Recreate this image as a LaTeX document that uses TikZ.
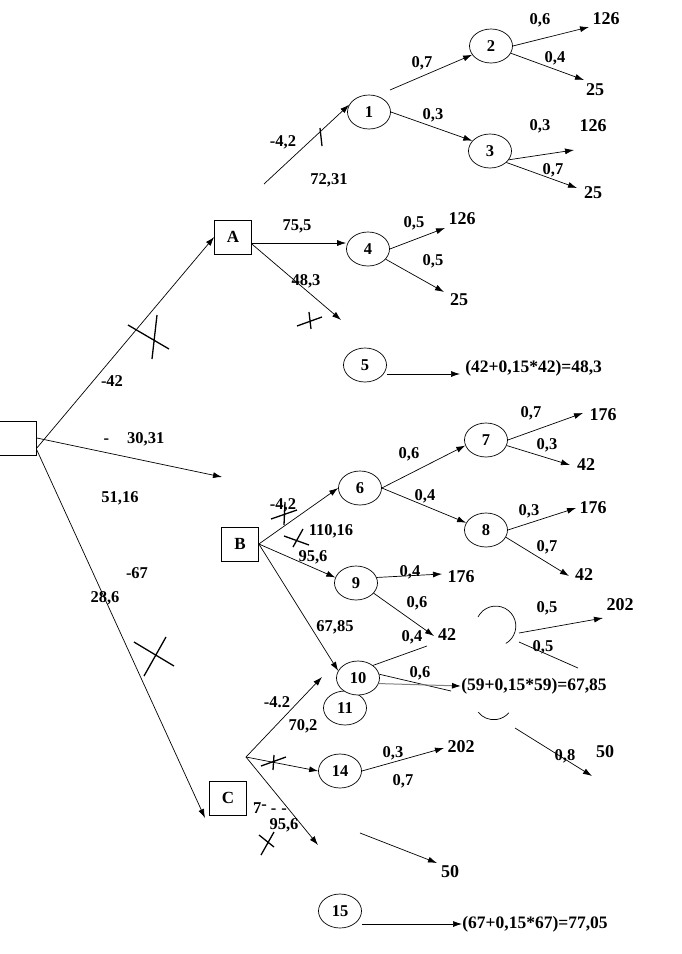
\documentclass[tikz,border=0pt]{standalone}
\usepackage{fontspec}
\setmainfont{Liberation Serif}
\usepackage{tikz}
\usetikzlibrary{arrows.meta,shapes.geometric,positioning}
\tikzset{>/.tip={Latex[length=9pt,width=6pt]}}
\tikzset{dec/.style={draw,minimum width=37pt,minimum height=34pt,inner sep=0pt,font=\bfseries\fontsize{17}{17}\selectfont}}
\tikzset{chn/.style={draw,fill=white,ellipse,minimum width=43pt,minimum height=34pt,inner sep=0pt,font=\bfseries\fontsize{16.5}{16.5}\selectfont}}
\tikzset{pr/.style={inner sep=0pt,font=\bfseries\fontsize{16.5}{16.5}\selectfont}}
\tikzset{val/.style={inner sep=0pt,font=\bfseries\fontsize{18}{18}\selectfont}}
\tikzset{fml/.style={inner sep=0pt,anchor=west,font=\bfseries\fontsize{17.5}{17.5}\selectfont}}
\tikzset{barred/.style={line width=1.3pt}}

\begin{document}
\begin{tikzpicture}[x=1pt,y=-1pt,line width=.7pt]
        \useasboundingbox (0,0) rectangle (681,954);
        % decisions
        \node[dec] (r) at (18,438) {};
        \node[dec] (A) at (233,237) {A};
        \node[dec] (B) at (240,544) {B};
        \node[dec] (C) at (228,798) {C};
        % chances
        \node[chn] (n1) at (369,112) {1};
        \node[chn] (n2) at (491,46) {2};
        \node[chn] (n3) at (490,151) {3};
        \node[chn] (n4) at (368,249) {4};
        \node[chn] (n5) at (365,365) {5};
        \node[chn] (n6) at (360,488) {6};
        \node[chn] (n7) at (486,440) {7};
        \node[chn] (n8) at (486,530) {8};
        \node[chn] (n9) at (356,583) {9};
        \node[chn] (n11) at (345,708) {11};
        \node[chn] (n10) at (358,678) {10};
        \node[chn] (n14) at (340,771) {14};
        \node[chn] (n15) at (340,911) {15};
        % results
        \node[fml] (f5) at (465,368) {(42+0,15*42)=48,3};
        \node[fml] (f10) at (461,686) {(59+0,15*59)=67,85};
        \node[fml] (f15) at (462,924) {(67+0,15*67)=77,05};
        % free ends
        \coordinate (m0) at (222,477);
        \coordinate (c9) at (205,818);
        \coordinate (a1) at (264,184);
        \coordinate (a5) at (341,320);
        \coordinate (o1) at (390,90);
        \coordinate (e2a) at (589,27);
        \coordinate (e2b) at (584,80);
        \coordinate (e3a) at (574,150);
        \coordinate (e3b) at (577,188);
        \coordinate (e4a) at (445,228);
        \coordinate (e4b) at (444,292);
        \coordinate (t5) at (460,374);
        \coordinate (e7a) at (583,413);
        \coordinate (e7b) at (570,465);
        \coordinate (e8a) at (576,508);
        \coordinate (e8b) at (569,576);
        \coordinate (e9a) at (442,574);
        \coordinate (e9b) at (434,636);
        \coordinate (e10a) at (427,646);
        \coordinate (e10b) at (451,691);
        \coordinate (g1) at (519,633);
        \coordinate (g2) at (603,618);
        \coordinate (g3) at (519,642);
        \coordinate (g4) at (578,668);
        \coordinate (g5) at (515,728);
        \coordinate (g6) at (592,776);
        \coordinate (c0) at (246,757);
        \coordinate (c1) at (322,677);
        \coordinate (c2) at (318,845);
        \coordinate (e14) at (444,748);
        \coordinate (c3) at (360,833);
        \coordinate (c4) at (437,863);
        % root
        \draw[->] ([yshift=-10pt]r.east) -- (A.west);
        \draw[->] (r.east) -- (m0);
        \draw[->] ([yshift=-12pt]r.east) -- (c9);
        \draw[barred] (128,325) -- (169,349) (157,315) -- (152,359);
        \draw[barred] (134,642) -- (174,666) (166,637) -- (144,676);
        % A
        \draw[->] ([yshift=-6pt]A.east) -- ([yshift=6pt]n4.west);
        \draw[->] ([yshift=-7pt]A.east) -- (a5);
        \draw[barred] (297,326) -- (322,317) (309,312) -- (311,329);
        \draw[->] (a1) -- (n1.160);
        \draw[barred] (320,128) -- (322,146);
        \draw[->] (o1) -- (n2.205);
        \draw[->] (n1.east) -- (n3.150);
        \draw[->] (n2.east) -- (e2a);
        \draw[->] (n2.-20) -- (e2b);
        \draw[->] (n3.-25) -- (e3a);
        \draw[->] (n3.-35) -- (e3b);
        \draw[->] (n4.east) -- (e4a);
        \draw[->] (n4.-30) -- (e4b);
        \draw[->] ([yshift=-9pt]n5.east) -- (t5);
        % B
        \draw[->] (B.east) -- (n6.west);
        \draw[->] (B.east) -- (n9.165);
        \draw[->] (B.east) -- (n10.160);
        \draw[barred] (271,519) -- (297,510) (285,502) -- (284,525);
        \draw[barred] (284,536) -- (309,545) (303,529) -- (293,547);
        \draw[->] (n6.east) -- (n7.195);
        \draw[->] (n6.east) -- (n8.160);
        \draw[->] (n7.east) -- (e7a);
        \draw[->] (n7.-15) -- (e7b);
        \draw[->] (n8.east) -- (e8a);
        \draw[->] (n8.-20) -- (e8b);
        \draw[->] (n9.15) -- (e9a);
        \draw[->] (n9.-30) -- (e9b);
        \draw (n10.40) -- (e10a);
        \draw (n10.10) -- (e10b);
        \draw[gray,line width=1pt,-{Latex[length=9pt,width=6pt,color=black]}] (n10.-15) -- (f10.west);
        \draw (478,617) arc[start angle=-153,end angle=60,radius=20];
        \draw (478,712) arc[start angle=142,end angle=41,radius=20];
        \draw[->] (g1) -- (g2);
        \draw (g3) -- (g4);
        \draw[->] (g5) -- (g6);
        % C
        \draw[->] (c0) -- (c1);
        \draw[->] (c0) -- (n14.west);
        \draw[->] (c0) -- (c2);
        \draw[barred] (261,766) -- (286,757) (274,755) -- (273,770);
        \draw[barred] (261,855) -- (274,832) (259,835) -- (274,847);
        \draw[->] (n14.east) -- (e14);
        \draw[->] (c3) -- (c4);
        \draw[->] ([yshift=-13pt]n15.east) -- (f15.west);
        % labels
        \node[pr] (pA) at (112,381) {-42};
        \node[pr] (pM) at (134,439) {-\hspace{18pt}30,31};
        \node[pr] (pM2) at (120,498) {51,16};
        \node[pr] (pC) at (137,573) {-67};
        \node[pr] (pC2) at (105,598) {28,6};
        \node[pr] (pA4) at (297,226) {75,5};
        \node[pr] (pA5) at (306,281) {48,3};
        \node[pr] (p1a) at (283,142) {-4,2};
        \node[pr] (p1b) at (329,180) {72,31};
        \node[pr] (p12) at (422,63) {0,7};
        \node[pr] (p13) at (433,115) {0,3};
        \node[pr] (p2a) at (540,20) {0,6};
        \node[pr] (p2b) at (555,58) {0,4};
        \node[pr] (p3a) at (540,126) {0,3};
        \node[pr] (p3b) at (553,170) {0,7};
        \node[pr] (p4a) at (414,223) {0,5};
        \node[pr] (p4b) at (433,261) {0,5};
        \node[val] (v2a) at (606,19) {126};
        \node[val] (v2b) at (595,90) {25};
        \node[val] (v3a) at (593,126) {126};
        \node[val] (v3b) at (593,193) {25};
        \node[val] (v4a) at (462,219) {126};
        \node[val] (v4b) at (459,300) {25};
        \node[pr] (pB6) at (283,505) {-4,2};
        \node[pr] (pB9a) at (331,531) {110,16};
        \node[pr] (pB9b) at (313,557) {95,6};
        \node[pr] (pB10) at (335,627) {67,85};
        \node[pr] (p67) at (409,454) {0,6};
        \node[pr] (p68) at (425,496) {0,4};
        \node[pr] (p7a) at (531,413) {0,7};
        \node[pr] (p7b) at (547,445) {0,3};
        \node[pr] (p8a) at (529,511) {0,3};
        \node[pr] (p8b) at (547,547) {0,7};
        \node[pr] (p9a) at (410,572) {0,4};
        \node[pr] (p9b) at (417,603) {0,6};
        \node[pr] (p10a) at (412,637) {0,4};
        \node[pr] (p10b) at (420,673) {0,6};
        \node[pr] (pg1) at (547,608) {0,5};
        \node[pr] (pg3) at (543,647) {0,5};
        \node[pr] (pg5) at (565,756) {0,8};
        \node[val] (v7a) at (603,415) {176};
        \node[val] (v7b) at (586,465) {42};
        \node[val] (v8a) at (593,508) {176};
        \node[val] (v8b) at (584,575) {42};
        \node[val] (v9a) at (461,577) {176};
        \node[val] (v9b) at (447,635) {42};
        \node[val] (vg2) at (620,605) {202};
        \node[val] (vg6) at (605,752) {50};
        \node[pr] (pc1a) at (277,702) {-4.2};
        \node[pr] (pc1b) at (303,726) {70,2};
        \node[pr] (pc2) at (284,825) {95,6};
        \node[pr] (q7) at (270,808) {7\raisebox{.5ex}{-}\hspace{4pt}-\hspace{5pt}-};
        \node[pr] (p14a) at (393,753) {0,3};
        \node[pr] (p14b) at (403,781) {0,7};
        \node[val] (v14) at (461,747) {202};
        \node[val] (vc4) at (450,872) {50};
\end{tikzpicture}
\end{document}
